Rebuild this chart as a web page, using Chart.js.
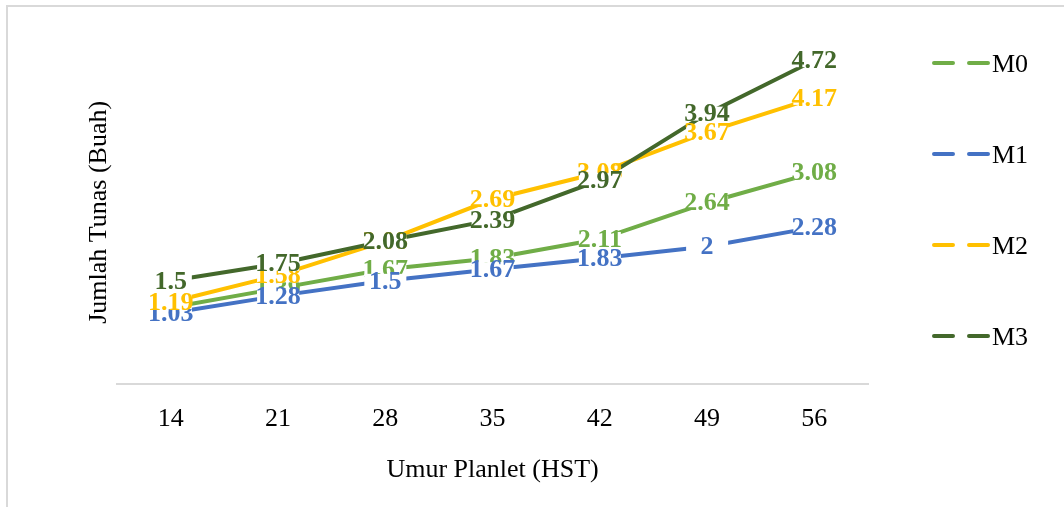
<!DOCTYPE html>
<html>
<head>
<meta charset="utf-8">
<script src="https://cdn.jsdelivr.net/npm/chart.js@4.4.0/dist/chart.umd.min.js"></script>
<style>
html, body { margin: 0; padding: 0; background: #fff; }
#wrap { position: relative; width: 1064px; height: 507px; overflow: hidden; }
#frame { position: absolute; left: 6px; top: 5px; width: 1080px; height: 520px; border: 2px solid #d9d9d9; box-sizing: border-box; }
canvas { position: absolute; left: 0; top: 0; }
</style>
</head>
<body>
<div id="wrap"><div id="frame"></div><canvas id="chart" width="1064" height="507"></canvas></div>
<script>
let days = ['14', '21', '28', '35', '42', '49', '56'];
let m0 = [1.11, 1.39, 1.67, 1.83, 2.11, 2.64, 3.08];
let m1 = [1.03, 1.28, 1.5, 1.67, 1.83, 2, 2.28];
let m2 = [1.19, 1.58, 2.08, 2.69, 3.08, 3.67, 4.17];
let m3 = [1.5, 1.75, 2.08, 2.39, 2.97, 3.94, 4.72];
let seriesNames = ['M0', 'M1', 'M2', 'M3'];
let seriesColors = ['#70AD47', '#4472C4', '#FFC000', '#43682B'];
let seriesData = [m0, m1, m2, m3];

let serif = '"Liberation Serif", "Times New Roman", serif';
Chart.defaults.font.family = serif;
Chart.defaults.color = '#000';

// value labels centred on each point, with a small white patch that breaks the line
const valueLabels = {
    id: 'valueLabels',
    afterDatasetsDraw(chart) {
        let ctx = chart.ctx;
        ctx.save();
        ctx.font = 'bold 26px ' + serif;
        ctx.textAlign = 'center';
        ctx.textBaseline = 'middle';
        chart.data.datasets.forEach((ds, i) => {
            let meta = chart.getDatasetMeta(i);
            meta.data.forEach((pt, j) => {
                ctx.fillStyle = '#fff';
                ctx.fillRect(pt.x - 21, pt.y - 7, 42, 14);
                ctx.fillStyle = ds.borderColor;
                ctx.fillText(String(ds.data[j]), pt.x, pt.y + 1);
            });
        });
        ctx.restore();
    }
};

// legend on the right with dashed samples
const sideLegend = {
    id: 'sideLegend',
    afterDraw(chart) {
        let ctx = chart.ctx;
        let area = chart.chartArea;
        let x0 = area.right + 66;
        ctx.save();
        ctx.font = '26px ' + serif;
        ctx.textBaseline = 'alphabetic';
        ctx.textAlign = 'left';
        chart.data.datasets.forEach((ds, i) => {
            let y = area.top + 22 + i * 91;
            ctx.strokeStyle = ds.borderColor;
            ctx.lineWidth = 4;
            ctx.lineCap = 'round';
            ctx.beginPath();
            ctx.moveTo(x0, y); ctx.lineTo(x0 + 19, y);
            ctx.moveTo(x0 + 35, y); ctx.lineTo(x0 + 54, y);
            ctx.stroke();
            ctx.fillStyle = '#000';
            ctx.fillText(ds.label, x0 + 58, y + 9);
        });
        ctx.restore();
    }
};

let datasets = seriesNames.map((name, i) => ({
    label: name,
    data: seriesData[i],
    borderColor: seriesColors[i],
    backgroundColor: seriesColors[i],
    borderWidth: 4,
    pointRadius: 0,
    pointHoverRadius: 0,
    tension: 0,
    fill: false,
    order: seriesNames.length - i
}));

new Chart(document.getElementById('chart').getContext('2d'), {
    type: 'line',
    data: { labels: days, datasets: datasets },
    options: {
        responsive: false,
        animation: false,
        layout: { padding: { left: 84, top: 41, right: 196, bottom: 21 } },
        plugins: {
            legend: { display: false },
            tooltip: { enabled: false }
        },
        scales: {
            x: {
                offset: true,
                grid: { display: false, drawTicks: false },
                border: { display: true, color: '#d9d9d9', width: 2 },
                ticks: { font: { size: 26 }, color: '#000', padding: 20 },
                title: {
                    display: true,
                    text: 'Umur Planlet (HST)',
                    font: { size: 26 },
                    color: '#000',
                    padding: { top: 0, bottom: 0 }
                }
            },
            y: {
                min: 0,
                max: 5,
                grid: { display: false, drawTicks: false },
                border: { display: false },
                ticks: { display: false },
                title: {
                    display: true,
                    text: 'Jumlah Tunas (Buah)',
                    font: { size: 26 },
                    color: '#000',
                    padding: { top: 0, bottom: 2 }
                }
            }
        }
    },
    plugins: [valueLabels, sideLegend]
});
</script>
</body>
</html>
